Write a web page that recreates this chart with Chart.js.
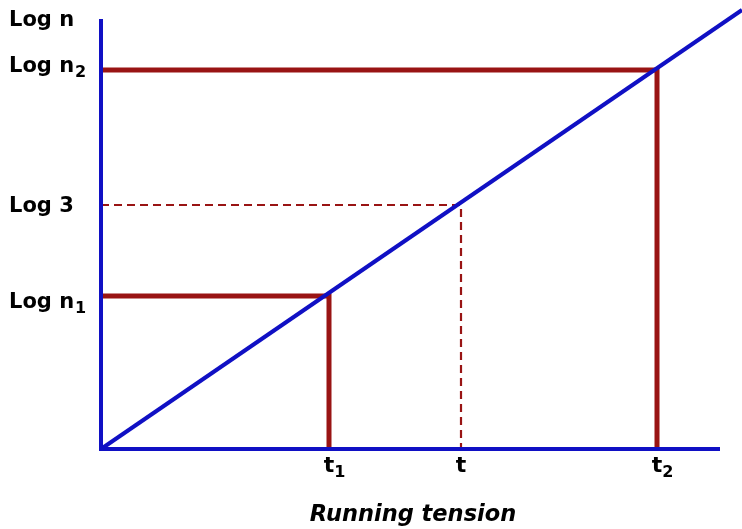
<!DOCTYPE html>
<html><head><meta charset="utf-8">
<script src="https://cdn.jsdelivr.net/npm/chart.js@4/dist/chart.umd.min.js"></script>
<style>html,body{margin:0;padding:0;background:#fff}#wrap{width:742px;height:529px;position:relative}</style>
</head><body><div id="wrap"><canvas id="c" width="742" height="529"></canvas></div>
<script>
// ---- data (arbitrary units) ----
const xAxisEnd = 619;
const yAxisTop = 430;
const tValues = [228, 360, 556];            // t1, t, t2
const tLabels = [['t', '1'], ['t', ''], ['t', '2']];
const logValues = [153, 244, 379];          // Log n1, Log 3, Log n2
const yLabels = [['Log n', '1'], ['Log 3', ''], ['Log n', '2']];
const lineEnd = [641, 439];
const xTitle = 'Running tension';
const yTitle = 'Log n';

// ---- styles ----
const BLUE = '#1010c4';
const RED = '#991414';
const FONT = '"DejaVu Sans", Verdana, sans-serif';
const yLabelDy = [12, 7, 2];   // baseline offsets per y label (px)

function pts(arr) { return arr.map(p => ({ x: p[0], y: p[1] })); }

const datasets = [
  { label: 'axes', data: pts([[0, yAxisTop], [0, 0], [xAxisEnd, 0]]), borderColor: BLUE, borderWidth: 4, borderJoinStyle: 'miter' },
  { label: 'line', data: pts([[0, 0], lineEnd]), borderColor: BLUE, borderWidth: 4 },
  { label: 'n1', data: pts([[0, logValues[0]], [tValues[0], logValues[0]], [tValues[0], 0]]), borderColor: RED, borderWidth: 5, borderJoinStyle: 'miter' },
  { label: 'n2', data: pts([[0, logValues[2]], [tValues[2], logValues[2]], [tValues[2], 0]]), borderColor: RED, borderWidth: 5, borderJoinStyle: 'miter' },
  { label: 'log3', data: pts([[0, logValues[1]], [tValues[1], logValues[1]], [tValues[1], 0]]), borderColor: RED, borderWidth: 2.2, borderDash: [8, 5] }
].map(d => Object.assign({ showLine: true, pointRadius: 0, fill: false, clip: false, tension: 0 }, d));

const labelPlugin = {
  id: 'labels',
  afterDraw(chart) {
    const ctx = chart.ctx, xs = chart.scales.x, ys = chart.scales.y;
    ctx.save();
    ctx.fillStyle = '#000';
    ctx.textBaseline = 'alphabetic';
    ctx.textAlign = 'left';
    // y labels
    const main = 'bold 21px ' + FONT, sub = 'bold 16px ' + FONT;
    function drawSub(text, s, x, y) {
      ctx.font = main; ctx.fillText(text, x, y);
      const w = ctx.measureText(text).width;
      if (s) { ctx.font = sub; ctx.fillText(s, x + w + 1, y + 5); }
    }
    drawSub(yTitle, '', 9, ys.getPixelForValue(yAxisTop) + 7);
    yLabels.forEach((l, i) => drawSub(l[0], l[1], 9, ys.getPixelForValue(logValues[i]) + yLabelDy[i]));
    // x labels
    const tFont = 'bold 22px ' + FONT;
    tLabels.forEach((l, i) => {
      const px = xs.getPixelForValue(tValues[i]);
      ctx.font = tFont;
      const w = ctx.measureText(l[0]).width;
      ctx.fillText(l[0], px - w / 2, 472);
      if (l[1]) { ctx.font = 'bold 16px ' + FONT; ctx.fillText(l[1], px + w / 2, 477); }
    });
    // x title
    ctx.font = 'italic bold 22.5px ' + FONT;
    ctx.textAlign = 'center';
    ctx.fillText(xTitle, 413, 521);
    ctx.restore();
  }
};

new Chart(document.getElementById('c'), {
  type: 'scatter',
  data: { datasets },
  options: {
    responsive: false,
    devicePixelRatio: 1,
    animation: false,
    layout: { padding: { left: 101, right: 22, top: 19, bottom: 80 } },
    scales: {
      x: { type: 'linear', min: 0, max: xAxisEnd, display: false },
      y: { type: 'linear', min: 0, max: yAxisTop, display: false }
    },
    plugins: { legend: { display: false }, tooltip: { enabled: false } }
  },
  plugins: [labelPlugin]
});
</script></body></html>
